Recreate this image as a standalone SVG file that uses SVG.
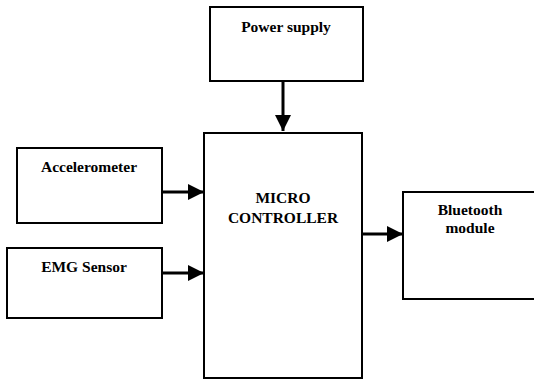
<svg xmlns="http://www.w3.org/2000/svg" width="534" height="381" viewBox="0 0 534 381">
  <style>
    .box { fill: #fff; stroke: #000; stroke-width: 2; }
    .lbl { font-family: 'Liberation Serif', 'Times New Roman', Times, 'DejaVu Serif', serif; font-weight: bold; font-size: 15.5px; text-anchor: middle; fill: #000; }
    .wire { stroke: #000; stroke-width: 3; fill: none; }
  </style>
  <defs>
    <marker id="arrow" markerUnits="userSpaceOnUse" markerWidth="16" markerHeight="16" refX="16" refY="8" orient="auto">
      <path d="M0,0 L16,8 L0,16 Z" fill="#000"/>
    </marker>
  </defs>

  <g id="power-supply">
    <rect class="box" x="210" y="7" width="153" height="74"/>
    <text class="lbl" x="286" y="32">Power supply</text>
  </g>

  <g id="accelerometer">
    <rect class="box" x="17" y="148" width="145" height="75"/>
    <text class="lbl" x="89" y="172">Accelerometer</text>
  </g>

  <g id="emg-sensor">
    <rect class="box" x="7" y="248" width="155" height="70"/>
    <text class="lbl" x="84" y="272">EMG Sensor</text>
  </g>

  <g id="microcontroller">
    <rect class="box" x="204" y="133" width="158" height="245"/>
    <text class="lbl" x="283" y="203">MICRO</text>
    <text class="lbl" x="283" y="223">CONTROLLER</text>
  </g>

  <g id="bluetooth-module">
    <rect class="box" x="403" y="192" width="134" height="107"/>
    <text class="lbl" x="470" y="215">Bluetooth</text>
    <text class="lbl" x="470" y="233">module</text>
  </g>

  <g id="connectors">
    <line class="wire" x1="283" y1="81" x2="283" y2="131" marker-end="url(#arrow)"/>
    <line class="wire" x1="162" y1="192" x2="204" y2="192" marker-end="url(#arrow)"/>
    <line class="wire" x1="162" y1="273" x2="204" y2="273" marker-end="url(#arrow)"/>
    <line class="wire" x1="362" y1="234" x2="403" y2="234" marker-end="url(#arrow)"/>
  </g>
</svg>
